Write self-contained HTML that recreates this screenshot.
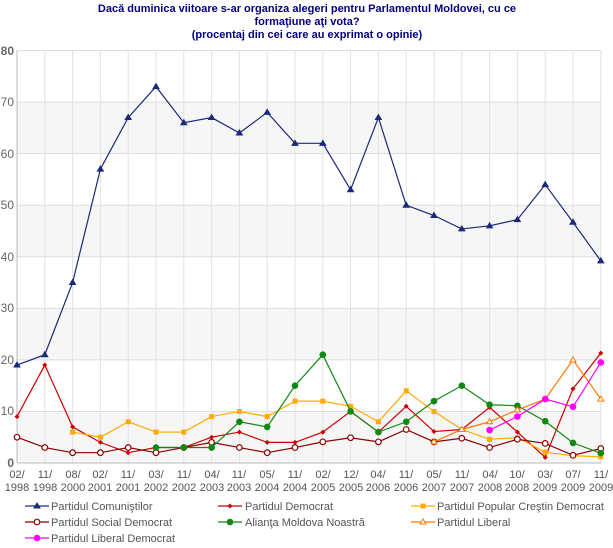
<!DOCTYPE html>
<html><head><meta charset="utf-8"><style>
body{margin:0;background:#fff;width:613px;height:548px;overflow:hidden}
svg{display:block;font-family:"Liberation Sans",sans-serif}
</style></head><body>
<svg id="s" width="613" height="548" viewBox="0 0 613 548">
<g font-size="11" font-weight="bold" fill="#000080" text-anchor="middle">
<text x="307" y="12">Dacă duminica viitoare s-ar organiza alegeri pentru Parlamentul Moldovei, cu ce</text>
<text x="307" y="25">formaţiune aţi vota?</text>
<text x="307" y="38">(procentaj din cei care au exprimat o opinie)</text>
</g>
<g id="grid"></g>
<g font-size="12" fill="#666" text-anchor="end">
<text x="14" y="467" font-weight="bold">0</text><text x="14" y="415">10</text><text x="14" y="364">20</text><text x="14" y="312">30</text><text x="14" y="261">40</text><text x="14" y="209">50</text><text x="14" y="158">60</text><text x="14" y="106">70</text><text x="14" y="55" font-weight="bold">80</text>
</g>
<g font-size="11" fill="#555" text-anchor="middle">
<text x="17" y="478">02/</text><text x="17" y="491">1998</text>
<text x="45" y="478">11/</text><text x="45" y="491">1998</text>
<text x="73" y="478">08/</text><text x="73" y="491">2000</text>
<text x="100" y="478">02/</text><text x="100" y="491">2001</text>
<text x="128" y="478">11/</text><text x="128" y="491">2001</text>
<text x="156" y="478">03/</text><text x="156" y="491">2002</text>
<text x="184" y="478">11/</text><text x="184" y="491">2002</text>
<text x="212" y="478">04/</text><text x="212" y="491">2003</text>
<text x="239" y="478">11/</text><text x="239" y="491">2003</text>
<text x="267" y="478">05/</text><text x="267" y="491">2004</text>
<text x="295" y="478">11/</text><text x="295" y="491">2004</text>
<text x="323" y="478">02/</text><text x="323" y="491">2005</text>
<text x="351" y="478">12/</text><text x="351" y="491">2005</text>
<text x="378" y="478">04/</text><text x="378" y="491">2006</text>
<text x="406" y="478">11/</text><text x="406" y="491">2006</text>
<text x="434" y="478">05/</text><text x="434" y="491">2007</text>
<text x="462" y="478">11/</text><text x="462" y="491">2007</text>
<text x="490" y="478">04/</text><text x="490" y="491">2008</text>
<text x="517" y="478">10/</text><text x="517" y="491">2008</text>
<text x="545" y="478">03/</text><text x="545" y="491">2009</text>
<text x="573" y="478">07/</text><text x="573" y="491">2009</text>
<text x="601" y="478">11/</text><text x="601" y="491">2009</text>
</g>
<g id="series"></g>
<g font-size="11" fill="#555">
<text x="51" y="510">Partidul Comuniştilor</text>
<text x="245" y="510">Partidul Democrat</text>
<text x="437" y="510">Partidul Popular Creştin Democrat</text>
<text x="51" y="526">Partidul Social Democrat</text>
<text x="245" y="526">Alianţa Moldova Noastră</text>
<text x="437" y="526">Partidul Liberal</text>
<text x="51" y="542">Partidul Liberal Democrat</text>
</g>
<g id="leg"></g>
</svg>
<script>
var NS="http://www.w3.org/2000/svg";
function el(p,t,a){var e=document.createElementNS(NS,t);for(var k in a)e.setAttribute(k,a[k]);p.appendChild(e);return e;}
var X=function(i){return 17+i*27.8;},Y=function(v){return 463-v*5.156;};
var g=document.getElementById('grid');
for(var b=0;b<80;b+=20)el(g,'rect',{x:17,y:Y(b+10),width:584,height:Y(b)-Y(b+10),fill:'#f6f6f6'});
for(var v=10;v<=80;v+=10)el(g,'line',{x1:17,x2:601,y1:Y(v),y2:Y(v),stroke:'#ddd'});
for(var i=1;i<22;i++)el(g,'line',{x1:X(i),x2:X(i),y1:Y(80),y2:463,stroke:'#e2e2e2'});
el(g,'line',{x1:17,x2:17,y1:Y(80),y2:463,stroke:'#bbb'});
el(g,'line',{x1:17,x2:601,y1:463,y2:463,stroke:'#bbb'});
var S=[
['#1a2a7a','tri',0,[19,21,35,57,67,73,66,67,64,68,62,62,53,67,50,48,45.4,46,47.2,54,46.7,39.2]],
['#cc0000','dia',0,[9,19,7,4,2,3,3,5,6,4,4,6,10,6,11,6.1,6.5,10.8,6,1.1,14.4,21.3]],
['#ffaa00','sq',2,[6,5,8,6,6,9,10,9,12,12,11,8,14,10,6.5,4.6,4.9,2.1,1.4,1.2]],
['#8b0000','oc',0,[5,3,2,2,3,2,3,4,3,2,3,4.1,4.9,4.1,6.5,4.1,4.8,3,4.6,3.8,1.5,2.8]],
['#118811','fc',5,[3,3,3,8,7,15,21,10,6,8,12,15,11.3,11.1,8.1,3.9,1.9]],
['#ff7700','otri',15,[4.1,6.5,8,10.3,12.4,20,12.4]],
['#ff00ff','fc',17,[6.4,9,12.4,10.9,19.5]]];
var sg=document.getElementById('series'),lg=document.getElementById('leg');
function mk(p,t,c,x,y){
 if(t=='tri'||t=='otri')el(p,'path',{d:'M'+x+' '+(y-3)+'L'+(x+3)+' '+(y+2)+'L'+(x-3)+' '+(y+2)+'Z',fill:t=='tri'?c:'#fff',stroke:c,'stroke-width':1});
 else if(t=='dia')el(p,'path',{d:'M'+x+' '+(y-2.5)+'L'+(x+2.5)+' '+y+'L'+x+' '+(y+2.5)+'L'+(x-2.5)+' '+y+'Z',fill:c});
 else if(t=='sq')el(p,'rect',{x:x-2.5,y:y-2.5,width:5,height:5,fill:c});
 else if(t=='oc')el(p,'circle',{cx:x,cy:y,r:2.8,fill:'#fff',stroke:c,'stroke-width':1.2});
 else el(p,'circle',{cx:x,cy:y,r:3.3,fill:c});
}
S.forEach(function(s){var pts=s[3].map(function(v,j){return [X(s[2]+j),Y(v)];});
 el(sg,'polyline',{points:pts.join(' '),fill:'none',stroke:s[0],'stroke-width':1.2});
 pts.forEach(function(p){mk(sg,s[1],s[0],p[0],p[1]);});});
var L=[[25,506,0],[218,506,1],[411,506,2],[25,522,3],[218,522,4],[411,522,5],[25,538,6]];
L.forEach(function(l){var s=S[l[2]];el(lg,'line',{x1:l[0],x2:l[0]+24,y1:l[1],y2:l[1],stroke:s[0],'stroke-width':1.2});mk(lg,s[1],s[0],l[0]+12,l[1]);});
</script>
</body></html>
